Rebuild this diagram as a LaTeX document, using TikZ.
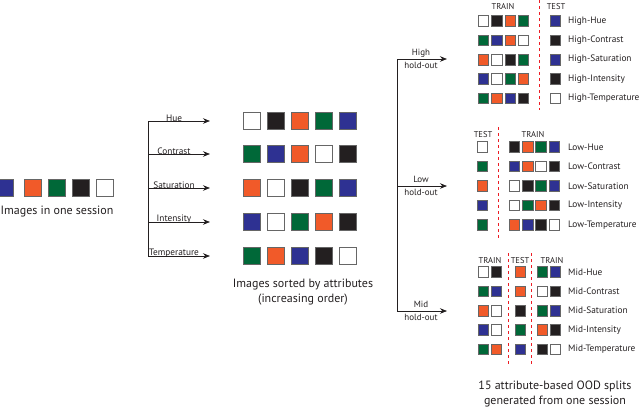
\documentclass[tikz,border=0pt]{standalone}
\usepackage{fontspec}
\setmainfont{PT Sans}
\usetikzlibrary{arrows.meta}
\definecolor{cB}{RGB}{46,49,146}
\definecolor{cO}{RGB}{241,90,41}
\definecolor{cG}{RGB}{0,104,56}
\definecolor{cK}{RGB}{35,31,32}
\definecolor{cW}{RGB}{255,255,255}
\definecolor{cR}{RGB}{237,28,36}
\definecolor{txt}{RGB}{35,31,32}
\newcommand\mksqrow[6]{%
  \edef\sqlist{#6}%
  \foreach \c [count=\i] in \sqlist {\node[#5, fill=\c] (#1\i) at ({#2+(\i-1)*#4}, #3) {};}}
\begin{document}
\begin{tikzpicture}[x=1pt,y=-1pt,
  bigsq/.style={draw=black!60, line width=0.8pt, minimum size=17pt, inner sep=0pt},
  smsq/.style={draw=black!60, line width=0.7pt, minimum size=10.5pt, inner sep=0pt},
  arr/.style={-{Stealth[length=7pt,width=5.5pt]}, line width=0.7pt, draw=txt},
  brk/.style={line width=0.7pt, draw=txt},
  lbl/.style={font=\fontsize{12}{14.5}\selectfont, text=txt, align=center, inner sep=0pt},
  albl/.style={font=\fontsize{9.3}{10}\selectfont, text=txt, inner sep=0.5pt, anchor=south},
  hlbl/.style={font=\fontsize{9}{12.5}\selectfont, text=txt, align=center, inner sep=0pt},
  hdr/.style={font=\fontsize{8.5}{9}\selectfont, text=txt, inner sep=0pt},
  slbl/.style={font=\fontsize{9.3}{10}\selectfont, text=txt, anchor=west, inner sep=0pt},
  rdash/.style={draw=cR, line width=0.9pt, dash pattern=on 3pt off 3pt},
]
\useasboundingbox (0,0) rectangle (640,408);

% --- images in one session
\mksqrow{s}{5}{188}{28}{bigsq}{cB}
\foreach \c [count=\i] in {cO,cG,cK,cW} {\node[bigsq, fill=\c] (s\i x) at ({33+(\i-1)*24},188) {};}
\node[lbl] (sessionlbl) at (57,212) {Images in one session};

% --- attribute bracket
\coordinate (bt) at (148,121);
\coordinate (bb) at (148,256);
\draw[brk] (bt) -- (bb);
\foreach \y/\t [count=\k] in {121/Hue,154/Contrast,188/Saturation,222/Intensity,256/Temperature} {
  \coordinate (a\k s) at (148,\y);
  \coordinate (a\k e) at (210,\y);
  \draw[arr] (a\k s) -- (a\k e);
  \node[albl] (al\k) at (174,\y+1.8) {\t};
}

% --- sorted grid
\mksqrow{ga}{252}{121}{24}{bigsq}{cW,cK,cO,cG,cB}
\mksqrow{gb}{252}{154}{24}{bigsq}{cG,cB,cO,cW,cK}
\mksqrow{gc}{252}{188}{24}{bigsq}{cO,cW,cK,cG,cB}
\mksqrow{gd}{252}{222}{24}{bigsq}{cB,cW,cG,cO,cK}
\mksqrow{ge}{252}{256}{24}{bigsq}{cG,cO,cB,cK,cW}
\node[lbl] (sortlbl) at (303,292) {Images sorted by attributes\\(increasing order)};

% --- hold-out bracket
\coordinate (ht) at (397,59);
\coordinate (hb) at (397,311);
\draw[brk] (ht) -- (hb);
\foreach \y/\t [count=\k] in {59/High,186/Low,311/Mid} {
  \coordinate (h\k s) at (397,\y);
  \coordinate (h\k e) at (447,\y);
  \draw[arr] (h\k s) -- (h\k e);
  \node[hlbl] (hl\k) at (421,\y) {\t\\hold-out};
}

% --- High block
\node[hdr] (hTR) at (503,7) {TRAIN};
\node[hdr] (hTE) at (556,7) {TEST};
\coordinate (hd1) at (539,0);
\coordinate (hd2) at (539,110);
\draw[rdash] (hd1) -- (hd2);
\foreach \tr/\te/\nm [count=\k] in {
  {cW,cK,cO,cG}/cB/Hue,
  {cG,cB,cO,cW}/cK/Contrast,
  {cO,cW,cK,cG}/cB/Saturation,
  {cB,cW,cG,cO}/cK/Intensity,
  {cG,cO,cB,cK}/cW/Temperature} {
  \pgfmathsetmacro\yy{21+(\k-1)*19.3}
  \mksqrow{hi\k r}{483.5}{\yy}{13.3}{smsq}{\tr}
  \node[smsq, fill=\te] (hi\k t) at (555.5,\yy) {};
  \node[slbl] (hi\k l) at (568,\yy) {High-\nm};
}

% --- Low block
\node[hdr] (lTE) at (483,135) {TEST};
\node[hdr] (lTR) at (533,135) {TRAIN};
\coordinate (ld1) at (498,127);
\coordinate (ld2) at (498,240);
\draw[rdash] (ld1) -- (ld2);
\foreach \te/\tr/\nm [count=\k] in {
  cW/{cK,cO,cG,cB}/Hue,
  cG/{cB,cO,cW,cK}/Contrast,
  cO/{cW,cK,cG,cB}/Saturation,
  cB/{cW,cG,cO,cK}/Intensity,
  cG/{cO,cB,cK,cW}/Temperature} {
  \pgfmathsetmacro\yy{147+(\k-1)*19.5}
  \node[smsq, fill=\te] (lo\k t) at (482.5,\yy) {};
  \mksqrow{lo\k r}{514.5}{\yy}{13.2}{smsq}{\tr}
  \node[slbl] (lo\k l) at (568,\yy) {Low-\nm};
}

% --- Mid block
\node[hdr] (mTR1) at (490,261) {TRAIN};
\node[hdr] (mTE) at (520,261) {TEST};
\node[hdr] (mTR2) at (552,261) {TRAIN};
\coordinate (md1) at (508,253);
\coordinate (md2) at (508,364);
\coordinate (md3) at (531,253);
\coordinate (md4) at (531,364);
\draw[rdash] (md1) -- (md2);
\draw[rdash] (md3) -- (md4);
\foreach \ta/\te/\tb/\nm [count=\k] in {
  {cW,cK}/cO/{cG,cB}/Hue,
  {cG,cB}/cO/{cW,cK}/Contrast,
  {cO,cW}/cK/{cG,cB}/Saturation,
  {cB,cW}/cG/{cO,cK}/Intensity,
  {cG,cO}/cB/{cK,cW}/Temperature} {
  \pgfmathsetmacro\yy{272+(\k-1)*19.3}
  \mksqrow{mi\k a}{483.5}{\yy}{13}{smsq}{\ta}
  \node[smsq, fill=\te] (mi\k t) at (520.5,\yy) {};
  \mksqrow{mi\k b}{542.5}{\yy}{13}{smsq}{\tb}
  \node[slbl] (mi\k l) at (568,\yy) {Mid-\nm};
}

\node[lbl] (splitlbl) at (555,394) {15 attribute-based OOD splits\\generated from one session};
\end{tikzpicture}
\end{document}
